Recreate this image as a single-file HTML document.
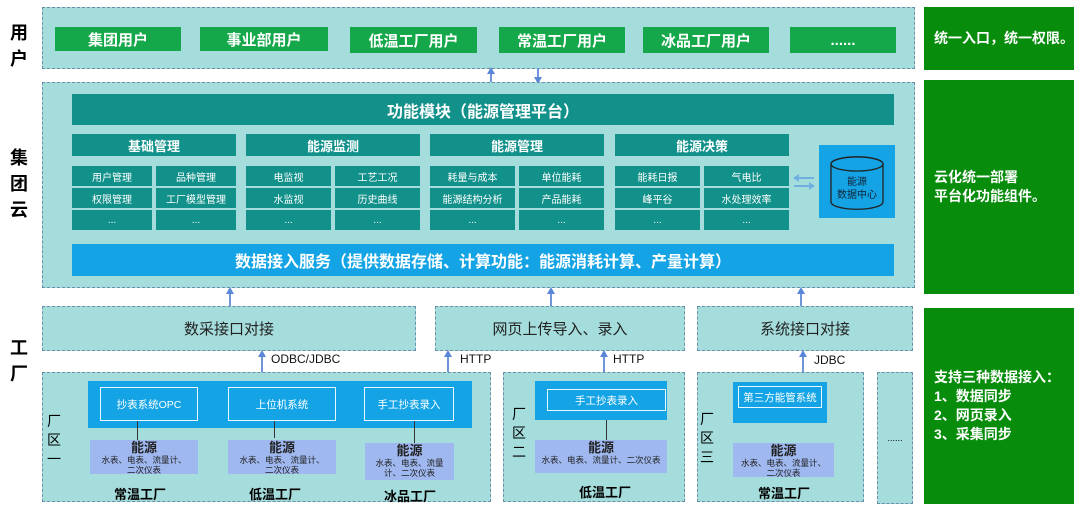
<!DOCTYPE html>
<html><head><meta charset="utf-8"><style>
*{margin:0;padding:0;box-sizing:border-box}
body{width:1080px;height:511px;background:#fff;position:relative;overflow:hidden;font-family:"Liberation Sans","Noto Sans CJK SC",sans-serif}
div{position:absolute}
.dash{border:1.5px dashed #6a8fa8;background:#a5dcdc}
.btn{background:#14a84a;color:#fff;font-weight:bold;font-size:15px;display:flex;align-items:center;justify-content:center;top:27px;height:24px}
.gp{background:#078c0b;color:#fff;font-weight:bold;font-size:14px;left:924px;width:150px;padding-left:10px;display:flex;align-items:center;line-height:19px}
.teal{background:#12908a;color:#fff;display:flex;align-items:center;justify-content:center}
.sh{font-weight:bold;font-size:13px;top:134px;height:22px}
.c{font-size:10px;height:20px}
.side{font-weight:bold;font-size:18px;left:8px;width:22px;text-align:center;line-height:26px}
.blue{background:#14a4e6}
.ib{border:1.5px solid #e8f6ff;color:#fff;font-size:10.5px;display:flex;align-items:center;justify-content:center}
.en{background:#9fb8ef;text-align:center;font-size:8.5px;line-height:10px;color:#222;white-space:nowrap}
.en b{font-size:13px;display:block;line-height:14px;margin-top:1px}
.fl{font-weight:bold;font-size:13px;text-align:center}
.zl{font-size:14px;width:14px;line-height:19px;text-align:center}
.ar{width:2px;background:#6f96d8}
.ah{width:0;height:0;border-left:4px solid transparent;border-right:4px solid transparent;border-bottom:7px solid #5a86d8}
.pl{font-size:12px;color:#111}
.ifc{font-size:15px;display:flex;align-items:center;justify-content:center;color:#222}
</style></head><body>
<div class="side" style="top:20px">用<br>户</div>
<div class="side" style="top:145px">集<br>团<br>云</div>
<div class="side" style="top:335px">工<br>厂</div>

<div class="dash" style="left:42px;top:7px;width:873px;height:62px"></div>
<div class="btn" style="left:55px;width:126px">集团用户</div>
<div class="btn" style="left:200px;width:128px">事业部用户</div>
<div class="btn" style="left:350px;width:127px;height:26px">低温工厂用户</div>
<div class="btn" style="left:499px;width:126px;height:26px">常温工厂用户</div>
<div class="btn" style="left:643px;width:126px;height:26px">冰品工厂用户</div>
<div class="btn" style="left:790px;width:106px;height:26px">......</div>

<div class="gp" style="top:7px;height:63px">统一入口，统一权限。</div>
<div class="gp" style="top:80px;height:214px;padding-left:10px">云化统一部署<br>平台化功能组件。</div>
<div class="gp" style="top:308px;height:196px">支持三种数据接入：<br>1、数据同步<br>2、网页录入<br>3、采集同步</div>

<div class="ar" style="left:490px;top:70px;height:12px"></div><div class="ah" style="left:487px;top:67px"></div>
<div class="ar" style="left:537px;top:68px;height:12px"></div><div class="ah" style="left:534px;top:77px;transform:rotate(180deg)"></div>

<div class="dash" style="left:42px;top:82px;width:873px;height:206px"></div>
<div class="teal" style="left:72px;top:94px;width:822px;height:31px;font-weight:bold;font-size:16px">功能模块（能源管理平台）</div>
<div class="teal sh" style="left:72px;width:164px">基础管理</div>
<div class="teal sh" style="left:246px;width:174px">能源监测</div>
<div class="teal sh" style="left:430px;width:174px">能源管理</div>
<div class="teal sh" style="left:615px;width:174px">能源决策</div>

<div class="teal c" style="left:72px;top:166px;width:80px">用户管理</div>
<div class="teal c" style="left:156px;top:166px;width:80px">品种管理</div>
<div class="teal c" style="left:72px;top:188px;width:80px">权限管理</div>
<div class="teal c" style="left:156px;top:188px;width:80px">工厂模型管理</div>
<div class="teal c" style="left:72px;top:210px;width:80px">...</div>
<div class="teal c" style="left:156px;top:210px;width:80px">...</div>

<div class="teal c" style="left:246px;top:166px;width:85px">电监视</div>
<div class="teal c" style="left:335px;top:166px;width:85px">工艺工况</div>
<div class="teal c" style="left:246px;top:188px;width:85px">水监视</div>
<div class="teal c" style="left:335px;top:188px;width:85px">历史曲线</div>
<div class="teal c" style="left:246px;top:210px;width:85px">...</div>
<div class="teal c" style="left:335px;top:210px;width:85px">...</div>

<div class="teal c" style="left:430px;top:166px;width:85px">耗量与成本</div>
<div class="teal c" style="left:519px;top:166px;width:85px">单位能耗</div>
<div class="teal c" style="left:430px;top:188px;width:85px">能源结构分析</div>
<div class="teal c" style="left:519px;top:188px;width:85px">产品能耗</div>
<div class="teal c" style="left:430px;top:210px;width:85px">...</div>
<div class="teal c" style="left:519px;top:210px;width:85px">...</div>

<div class="teal c" style="left:615px;top:166px;width:85px">能耗日报</div>
<div class="teal c" style="left:704px;top:166px;width:85px">气电比</div>
<div class="teal c" style="left:615px;top:188px;width:85px">峰平谷</div>
<div class="teal c" style="left:704px;top:188px;width:85px">水处理效率</div>
<div class="teal c" style="left:615px;top:210px;width:85px">...</div>
<div class="teal c" style="left:704px;top:210px;width:85px">...</div>

<svg style="position:absolute;left:792px;top:173px" width="24" height="18"><path d="M6 5 H22" stroke="#6fb0e0" stroke-width="2"/><path d="M1 5 L7 1 L7 9 Z" fill="#6fb0e0"/><path d="M2 13 H18" stroke="#6fb0e0" stroke-width="2"/><path d="M23 13 L17 9 L17 17 Z" fill="#6fb0e0"/></svg>
<div class="blue" style="left:819px;top:145px;width:76px;height:73px"></div>
<svg style="position:absolute;left:829px;top:155px" width="56" height="56"><path d="M2 9 A25 7 0 0 1 54 9 L54 47 A25 7 0 0 1 2 47 Z" fill="#14a4e6" stroke="#222" stroke-width="1.3"/><ellipse cx="28" cy="9" rx="26" ry="7" fill="none" stroke="#222" stroke-width="1.3"/><text x="28" y="30" font-size="10" text-anchor="middle" fill="#123">能源</text><text x="28" y="43" font-size="10" text-anchor="middle" fill="#123">数据中心</text></svg>

<div class="blue" style="left:72px;top:244px;width:822px;height:32px;color:#fff;font-weight:bold;font-size:16px;display:flex;align-items:center;justify-content:center">数据接入服务（提供数据存储、计算功能：能源消耗计算、产量计算）</div>

<div class="ar" style="left:229px;top:290px;height:18px"></div><div class="ah" style="left:226px;top:287px"></div>
<div class="ar" style="left:550px;top:290px;height:18px"></div><div class="ah" style="left:547px;top:287px"></div>
<div class="ar" style="left:800px;top:290px;height:18px"></div><div class="ah" style="left:797px;top:287px"></div>

<div class="dash ifc" style="left:42px;top:306px;width:374px;height:45px">数采接口对接</div>
<div class="dash ifc" style="left:435px;top:306px;width:250px;height:45px">网页上传导入、录入</div>
<div class="dash ifc" style="left:697px;top:306px;width:216px;height:45px">系统接口对接</div>

<div class="ar" style="left:261px;top:352px;height:28px"></div><div class="ah" style="left:258px;top:350px"></div>
<div class="pl" style="left:271px;top:352px">ODBC/JDBC</div>
<div class="ar" style="left:447px;top:352px;height:28px"></div><div class="ah" style="left:444px;top:350px"></div>
<div class="pl" style="left:460px;top:352px">HTTP</div>
<div class="ar" style="left:603px;top:352px;height:20px"></div><div class="ah" style="left:600px;top:350px"></div>
<div class="pl" style="left:613px;top:352px">HTTP</div>
<div class="ar" style="left:802px;top:352px;height:20px"></div><div class="ah" style="left:799px;top:350px"></div>
<div class="pl" style="left:814px;top:353px">JDBC</div>

<div class="dash" style="left:42px;top:372px;width:449px;height:130px"></div>
<div class="zl" style="left:47px;top:412px">厂<br>区<br>一</div>
<div class="blue" style="left:88px;top:381px;width:384px;height:47px"></div>
<div class="ib" style="left:100px;top:387px;width:98px;height:34px">抄表系统OPC</div>
<div class="ib" style="left:228px;top:387px;width:108px;height:34px">上位机系统</div>
<div class="ib" style="left:364px;top:387px;width:90px;height:34px">手工抄表录入</div>
<div style="left:137px;top:421px;width:1px;height:19px;background:#333"></div>
<div style="left:274px;top:421px;width:1px;height:17px;background:#333"></div>
<div style="left:414px;top:421px;width:1px;height:22px;background:#333"></div>
<div class="en" style="left:90px;top:440px;width:108px;height:34px"><b>能源</b>水表、电表、流量计、<br>二次仪表</div>
<div class="en" style="left:228px;top:440px;width:108px;height:34px"><b>能源</b>水表、电表、流量计、<br>二次仪表</div>
<div class="en" style="left:365px;top:443px;width:89px;height:37px"><b>能源</b>水表、电表、流量<br>计、二次仪表</div>
<div class="fl" style="left:105px;top:484px;width:70px">常温工厂</div>
<div class="fl" style="left:240px;top:484px;width:70px">低温工厂</div>
<div class="fl" style="left:375px;top:486px;width:70px">冰品工厂</div>

<div class="dash" style="left:503px;top:372px;width:182px;height:130px"></div>
<div class="zl" style="left:512px;top:405px">厂<br>区<br>二</div>
<div class="blue" style="left:535px;top:381px;width:132px;height:39px"></div>
<div class="ib" style="left:547px;top:389px;width:119px;height:22px">手工抄表录入</div>
<div style="left:606px;top:420px;width:1px;height:20px;background:#333"></div>
<div class="en" style="left:535px;top:440px;width:132px;height:33px"><b>能源</b>水表、电表、流量计、二次仪表</div>
<div class="fl" style="left:570px;top:482px;width:70px">低温工厂</div>

<div class="dash" style="left:697px;top:372px;width:167px;height:130px"></div>
<div class="zl" style="left:700px;top:410px">厂<br>区<br>三</div>
<div class="blue" style="left:733px;top:382px;width:94px;height:41px"></div>
<div class="ib" style="left:738px;top:386px;width:84px;height:22px">第三方能管系统</div>
<div class="en" style="left:733px;top:443px;width:101px;height:34px"><b>能源</b>水表、电表、流量计、<br>二次仪表</div>
<div class="fl" style="left:746px;top:483px;width:76px">常温工厂</div>

<div class="dash" style="left:877px;top:372px;width:36px;height:132px;font-size:9px;display:flex;align-items:center;justify-content:center">......</div>
</body></html>
